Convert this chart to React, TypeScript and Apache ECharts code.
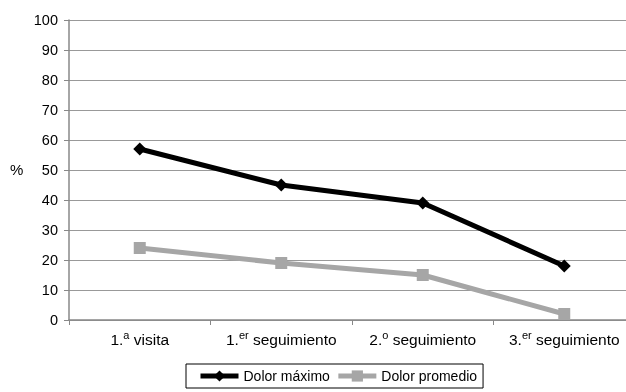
import React, { useEffect, useRef } from "react";
import * as echarts from "echarts";

const categories = ["1.{sup|a} visita", "1.{sup|er} seguimiento", "2.{sup|o} seguimiento", "3.{sup|er} seguimiento"];
const dolorMaximo = [57, 45, 39, 18];
const dolorPromedio = [24, 19, 15, 2];
const yTicks = { min: 0, max: 100, interval: 10 };

const FONT = "Liberation Sans, Arial, sans-serif";

export default function App() {
  const ref = useRef<HTMLDivElement>(null);
  useEffect(() => {
    document.body.style.overflow = "hidden";
    if (!ref.current) return;
    const chart = echarts.init(ref.current, undefined, { renderer: "svg" });
    chart.setOption({
      animation: false,
      textStyle: { fontFamily: FONT },
      // the plot runs slightly past the right edge of the visible window
      grid: { left: 69, right: 5, top: 20, bottom: 72, containLabel: false },
      xAxis: {
        type: "category",
        data: categories,
        boundaryGap: true,
        axisLine: { lineStyle: { color: "#888", width: 1.5 } },
        axisTick: { show: true, length: 5, interval: 0, lineStyle: { color: "#888" } },
        axisLabel: {
          interval: 0,
          color: "#000",
          fontSize: 15.5,
          fontFamily: FONT,
          margin: 9,
          rich: {
            sup: { fontSize: 11, verticalAlign: "top", padding: [0, 0, 9, 0], color: "#000", fontFamily: FONT },
          },
        },
      },
      yAxis: {
        type: "value",
        min: yTicks.min,
        max: yTicks.max,
        interval: yTicks.interval,
        axisLine: { show: true, lineStyle: { color: "#888", width: 1.5 } },
        axisTick: { show: true, length: 5, lineStyle: { color: "#888" } },
        axisLabel: { color: "#000", fontSize: 14.5, fontFamily: FONT, margin: 11 },
        splitLine: { lineStyle: { color: "#999", width: 1 } },
      },
      legend: {
        top: 364,
        left: 186,
        itemWidth: 38,
        itemHeight: 14,
        itemGap: 6,
        padding: [5, 6, 5, 12],
        borderColor: "#000",
        borderWidth: 1,
        lineStyle: { width: 5 },
        textStyle: { color: "#000", fontSize: 14, fontFamily: FONT },
        data: ["Dolor máximo", "Dolor promedio"],
      },
      graphic: [
        {
          type: "text",
          left: 10,
          top: 162,
          style: { text: "%", fontSize: 15, fontFamily: FONT, fill: "#000" },
        },
      ],
      series: [
        {
          name: "Dolor máximo",
          type: "line",
          data: dolorMaximo,
          symbol: "diamond",
          symbolSize: 13,
          lineStyle: { color: "#000", width: 5 },
          itemStyle: { color: "#000" },
        },
        {
          name: "Dolor promedio",
          type: "line",
          data: dolorPromedio,
          symbol: "rect",
          symbolSize: 12,
          lineStyle: { color: "#a6a6a6", width: 5 },
          itemStyle: { color: "#a6a6a6" },
        },
      ],
    });
    return () => chart.dispose();
  }, []);
  return <div ref={ref} style={{ position: "fixed", left: 0, top: 0, width: 640, height: 392 }} />;
}
